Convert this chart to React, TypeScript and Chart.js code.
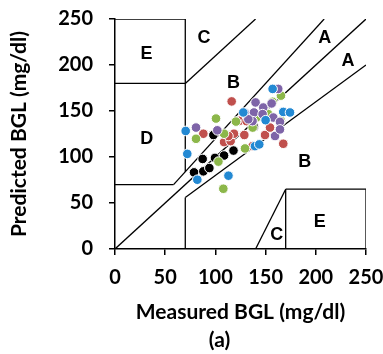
import React, { useEffect, useRef } from "react";
import { Chart, registerables } from "chart.js";

Chart.register(...registerables);

// Measured (x) / predicted (y) BGL, mg/dl, per series colour
const blueX = [70.4, 72, 82, 113, 139.4, 143.7, 157, 167.6, 174.3, 127.8, 150];
const blueY = [128.3, 103.4, 75.3, 79.7, 111.8, 113.7, 174, 149, 148.4, 148.4, 140];
const purpleX = [80.7, 101.9, 140, 129.5, 138.4, 147.7, 156, 162.6, 137, 157.7, 164.3, 159.4, 164.3, 147, 132.8];
const purpleY = [132, 129, 159.3, 147.7, 148.4, 153.8, 158.2, 174, 139, 142.9, 138.2, 122.8, 130, 146.6, 141];
const greenX = [80.7, 100.6, 108.6, 120.5, 137.1, 129.5, 103, 107.9, 157, 165.3, 150, 165.3, 141, 152.7];
const greenY = [119.8, 141.8, 125.3, 138.5, 132, 109.3, 95, 65.5, 160, 166.7, 149, 139.3, 143, 146.6];
const redX = [116.2, 88, 108.6, 115.2, 118.5, 128.8, 123.8, 137.1, 149.4, 154.4, 167.6, 131, 113];
const redY = [160.4, 125.3, 116.2, 117.3, 125.3, 123.9, 139.3, 111.8, 123.9, 132, 114.4, 139, 122.8];
const blackX = [98, 87.3, 99.6, 108.6, 78.7, 88, 94, 138.4, 118];
const blackY = [123.9, 97.9, 99, 101.6, 83.3, 84.4, 88, 132.7, 107];

// Clarke error grid zone boundaries as segments [x1, y1, x2, y2]
const zoneSegments = [
  [0, 0, 250, 250],
  [0, 70, 58.33, 70],
  [58.33, 70, 208.33, 250],
  [70, 0, 70, 56],
  [70, 56, 250, 200],
  [70, 84, 70, 250],
  [0, 180, 70, 180],
  [0, 250, 70, 250],
  [70, 180, 140, 250],
  [140, 0, 170, 65],
  [170, 0, 170, 65],
  [170, 65, 250, 65],
  [250, 0, 250, 65],
];

// Zone letters [label, x, y]
const zoneLabels: [string, number, number][] = [
  ["E", 31.5, 212],
  ["C", 88.6, 229],
  ["A", 209, 229],
  ["A", 232, 204],
  ["B", 118, 180],
  ["D", 31.5, 120],
  ["B", 189, 95],
  ["C", 161, 15],
  ["E", 204, 29.6],
];

const ticks = [0, 50, 100, 150, 200, 250];
const xTitle = "Measured BGL (mg/dl)";
const yTitle = "Predicted BGL (mg/dl)";
const caption = "(a)";

const FONT = "Lato, 'Open Sans', sans-serif";

function pts(xs: number[], ys: number[]) {
  return xs.map((x, i) => ({ x, y: ys[i] }));
}

export default function App() {
  const ref = useRef<HTMLCanvasElement | null>(null);
  useEffect(() => {
    if (!ref.current) return;
    const series = [
      { d: pts(blueX, blueY), c: "#2389d3" },
      { d: pts(purpleX, purpleY), c: "#7e64a8" },
      { d: pts(greenX, greenY), c: "#8cb74a" },
      { d: pts(redX, redY), c: "#c0504d" },
      { d: pts(blackX, blackY), c: "#000000" },
    ];
    const lineSets = zoneSegments.map((s) => ({
      type: "line" as const,
      data: [
        { x: s[0], y: s[1] },
        { x: s[2], y: s[3] },
      ],
      borderColor: "#000",
      borderWidth: 1.3,
      pointRadius: 0,
      showLine: true,
      fill: false,
      order: 10,
    }));
    const pointSets = series.map((s) => ({
      type: "scatter" as const,
      data: s.d,
      backgroundColor: s.c,
      borderColor: "#ffffff",
      borderWidth: 1,
      pointRadius: 4.8,
      order: 1,
    }));
    const labelPlugin = {
      id: "zoneLabels",
      afterDatasetsDraw(chart: any) {
        const { ctx, scales, chartArea } = chart;
        ctx.save();
        ctx.fillStyle = "#000";
        ctx.font = "bold 18px 'Liberation Sans', Arial, sans-serif";
        ctx.textAlign = "center";
        ctx.textBaseline = "middle";
        zoneLabels.forEach(([t, x, y]) => {
          ctx.fillText(t, scales.x.getPixelForValue(x), scales.y.getPixelForValue(y));
        });
        ctx.font = "bold 21px " + FONT;
        const cx = (chartArea.left + chartArea.right) / 2 - 21;
        ctx.fillText(caption, cx, chart.height - 14);
        ctx.restore();
      },
    };
    const chart = new Chart(ref.current, {
      type: "scatter",
      data: { datasets: [...pointSets, ...lineSets] as any },
      options: {
        animation: false,
        responsive: false,
        layout: { padding: { left: 0, top: 19, right: 17, bottom: 0 } },
        plugins: { legend: { display: false }, tooltip: { enabled: false } },
        scales: {
          x: {
            type: "linear",
            min: 0,
            max: 250,
            afterBuildTicks: (s: any) => {
              s.ticks = ticks.map((v) => ({ value: v }));
            },
            afterFit: (s: any) => {
              s.height = 105;
              s.paddingRight = 0;
              s.paddingLeft = 0;
            },
            border: { display: true, color: "#000", width: 1.5 },
            grid: { display: true, drawOnChartArea: false, drawTicks: true, tickLength: 6, color: "#000", lineWidth: 1.5 },
            ticks: { color: "#000", padding: 11, font: { family: FONT, size: 20, weight: "bold" }, maxRotation: 0 },
            title: {
              display: true,
              text: xTitle,
              color: "#000",
              font: { family: FONT, size: 21, weight: "bold", lineHeight: 1.2 },
              padding: { top: 0, bottom: 29 },
            },
          },
          y: {
            type: "linear",
            min: 0,
            max: 250,
            afterBuildTicks: (s: any) => {
              s.ticks = ticks.map((v) => ({ value: v }));
            },
            afterFit: (s: any) => {
              s.width = 115;
              s.paddingTop = 0;
              s.paddingBottom = 0;
            },
            border: { display: true, color: "#000", width: 1.5 },
            grid: { display: true, drawOnChartArea: false, drawTicks: true, tickLength: 6, color: "#000", lineWidth: 1.5 },
            ticks: { color: "#000", padding: 16, font: { family: FONT, size: 20, weight: "bold" } },
            title: {
              display: true,
              text: yTitle,
              color: "#000",
              font: { family: FONT, size: 21, weight: "bold", lineHeight: 1.2 },
              padding: { top: 7, bottom: 0 },
            },
          },
        },
      },
      plugins: [labelPlugin],
    });
    return () => chart.destroy();
  }, []);
  return (
    <div style={{ position: "fixed", left: 0, top: 0, width: 383, height: 354, background: "#fff" }}>
      <canvas ref={ref} width={383} height={354} />
    </div>
  );
}
